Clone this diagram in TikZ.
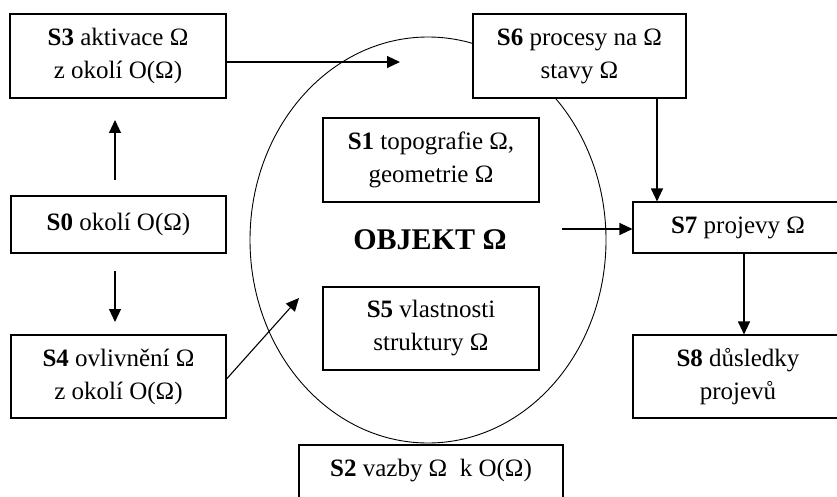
\documentclass[tikz,border=0pt]{standalone}
\usepackage{fontspec}
\setmainfont{Liberation Serif}
\usetikzlibrary{arrows.meta,shapes.geometric}
\begin{document}
\begin{tikzpicture}[x=1pt,y=-1pt,
  box/.style={draw, line width=1.1pt, fill=white, align=center, inner sep=0pt,
    font=\fontsize{25}{33}\selectfont},
  arr/.style={line width=1.1pt, -{Triangle[length=13pt,width=12pt]}}]
\clip (0,0) rectangle (837,497);
\fill[white] (0,0) rectangle (837,497);
\node[draw, line width=0.9pt, ellipse, minimum width=356, minimum height=406, inner sep=0pt] (obj) at (428,240) {};
\node[font=\fontsize{30}{32}\selectfont\bfseries] (objt) at (430,240) {OBJEKT Ω};
\node[box, minimum width=216, minimum height=84] (S3) at (118,56) {\textbf{S3} aktivace Ω\\z okolí O(Ω)};
\node[box, minimum width=215, minimum height=57] (S0) at (118.5,224.5) {\textbf{S0} okolí O(Ω)};
\node[box, minimum width=215, minimum height=83] (S4) at (118.5,376.5) {\textbf{S4} ovlivnění Ω\\z okolí O(Ω)};
\node[box, minimum width=213, minimum height=84] (S6) at (579.5,56) {\textbf{S6} procesy na Ω\\stavy Ω};
\node[box, minimum width=216, minimum height=84] (S1) at (431,160) {\textbf{S1} topografie Ω,\\geometrie Ω};
\node[box, minimum width=216, minimum height=83] (S5) at (431,328.5) {\textbf{S5} vlastnosti\\struktury Ω};
\node[box, minimum width=210, minimum height=51] (S7) at (738,227.5) {\textbf{S7} projevy Ω};
\node[box, minimum width=210, minimum height=83] (S8) at (738,376.5) {\textbf{S8} důsledky\\projevů};
\node[box, minimum width=264, minimum height=62, text depth=17pt] (S2) at (431,476) {\textbf{S2} vazby Ω~ k O(Ω)};
\coordinate (a3) at (400,62);
\coordinate (u1) at (115,180);
\coordinate (u2) at (115,120);
\coordinate (d1) at (115,271);
\coordinate (d2) at (115,322);
\coordinate (a4) at (299,298);
\coordinate (ao) at (562,229);
\draw[arr] (S3.east |- a3) -- (a3);
\draw[arr] (u1) -- (u2);
\draw[arr] (d1) -- (d2);
\draw[arr] (S4.east |- 0,379) -- (a4);
\draw[arr] (S6.south -| 657,0) -- (S7.north -| 657,0);
\draw[arr] (ao) -- (S7.west |- ao);
\draw[arr] (S7.south -| 744,0) -- (S8.north -| 744,0);
\end{tikzpicture}
\end{document}
